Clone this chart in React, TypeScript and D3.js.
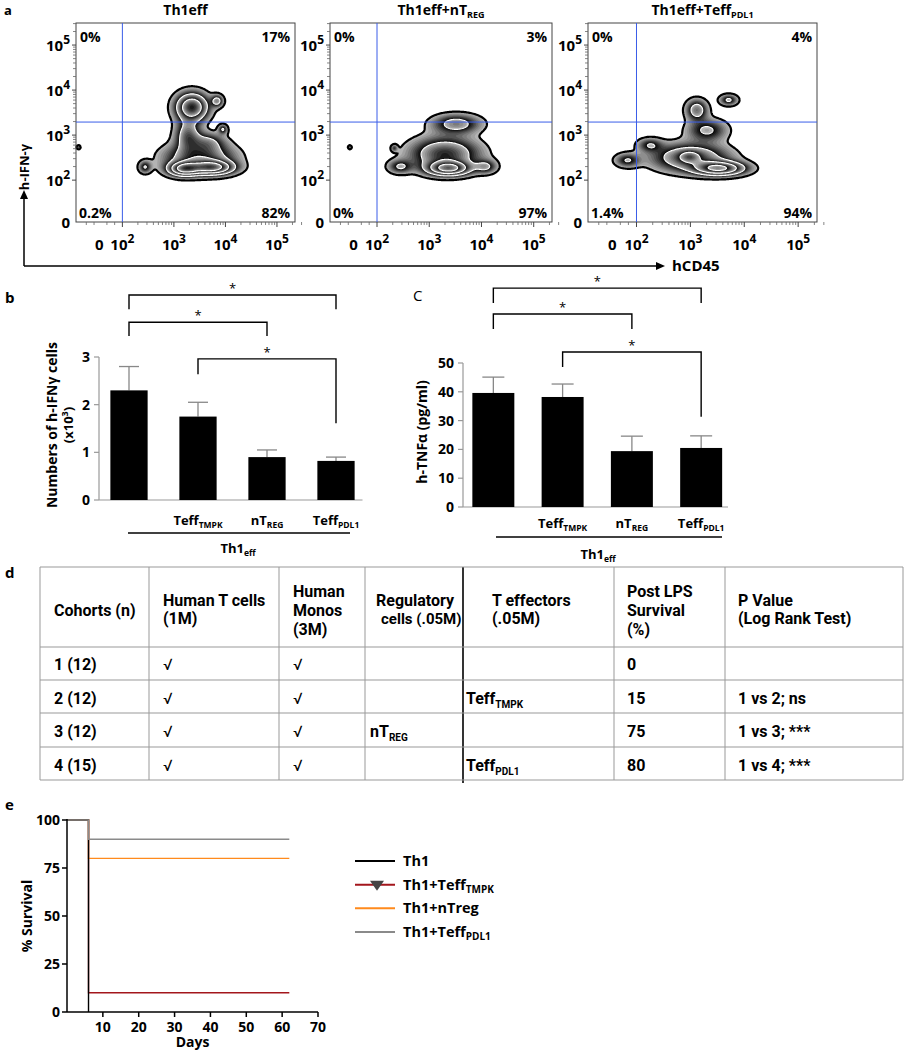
import React, { useMemo } from 'react';
import * as d3 from 'd3';

const FONT = "'Open Sans', 'Noto Sans', 'DejaVu Sans', sans-serif";
const NARROW = "'Roboto', 'Liberation Sans', sans-serif";

// ---------------- Panel a: flow plots ----------------
const flowTitles = ['Th1eff', 'Th1eff+nT', 'Th1eff+Teff'];
const flowTitleSubs = ['', 'REG', 'PDL1'];
const quadrantLabels = [
  ['0%', '17%', '0.2%', '82%'],
  ['0%', '3%', '0%', '97%'],
  ['0%', '4%', '1.4%', '94%'],
];
const flowXTicks = [1.55, 2, 3, 4, 5];
const flowYTicks = [1.1, 2, 3, 4, 5];
const flowTickLabels = [['0', ''], ['10', '2'], ['10', '3'], ['10', '4'], ['10', '5']];
const flowDecades = [2, 3, 4];
const gateU = 2.0;
const gateV = 3.29;
// populations in display (log10) units: [centre x, centre y, spread x, spread y, weight]
const popsTh1eff = [
  [3.2, 2.25, 0.2, 0.1, 1.6],
  [3.75, 2.28, 0.26, 0.1, 1.6],
  [3.5, 2.5, 0.42, 0.21, 0.9],
  [3.27, 3.0, 0.16, 0.22, 0.7],
  [3.65, 2.85, 0.22, 0.14, 0.45],
  [3.35, 3.62, 0.2, 0.2, 1.5],
  [3.84, 3.76, 0.08, 0.09, 0.6],
  [2.44, 2.29, 0.08, 0.09, 0.5],
  [3.95, 3.13, 0.06, 0.07, 0.5],
  [1.15, 2.73, 0.025, 0.03, 0.35],
];
const popsNTreg = [
  [3.37, 2.26, 0.26, 0.1, 1.6],
  [3.3, 2.58, 0.42, 0.24, 0.9],
  [3.52, 3.25, 0.3, 0.14, 0.65],
  [4.08, 2.3, 0.14, 0.1, 0.5],
  [2.44, 2.3, 0.15, 0.1, 0.5],
  [2.33, 2.71, 0.04, 0.05, 0.35],
  [1.48, 2.73, 0.025, 0.03, 0.3],
];
const popsPdl1 = [
  [3.54, 2.26, 0.3, 0.1, 1.6],
  [3.0, 2.5, 0.45, 0.2, 0.9],
  [3.12, 3.56, 0.13, 0.15, 0.7],
  [3.31, 3.11, 0.24, 0.16, 0.55],
  [3.71, 3.78, 0.11, 0.08, 0.55],
  [1.83, 2.44, 0.15, 0.1, 0.5],
  [2.25, 2.78, 0.15, 0.1, 0.45],
  [2.98, 2.52, 0.12, 0.08, 0.5],
];
const flowPops = [popsTh1eff, popsNTreg, popsPdl1];
const bandEdges = [0.1, 0.5, 1.0, 1.6, 2.3, 3.2];

// ---------------- Panels b / C: bars ----------------
const barGroups = ['Th1eff', 'TeffTMPK', 'nTREG', 'TeffPDL1'];
const barLabelMain = ['', 'Teff', 'nT', 'Teff'];
const barLabelSub = ['', 'TMPK', 'REG', 'PDL1'];
const ifnValues = [2.3, 1.75, 0.9, 0.82];
const ifnErrors = [0.5, 0.3, 0.15, 0.08];
const ifnTicks = [0, 1, 2, 3];
const tnfValues = [39.6, 38.2, 19.4, 20.5];
const tnfErrors = [5.5, 4.5, 5.2, 4.2];
const tnfTicks = [0, 10, 20, 30, 40, 50];
// [from, to, bar level, left end, right end]
const ifnSig = [
  [0, 3, 4.3, 4.0, 4.0],
  [0, 2, 3.73, 3.44, 3.44],
  [1, 3, 2.96, 2.64, 1.61],
];
const tnfSig = [
  [0, 3, 76, 70.8, 70.8],
  [0, 2, 67, 61.8, 61.8],
  [1, 3, 53.8, 48.6, 31.3],
];

// ---------------- Panel d: table ----------------
const tableHeaders = [
  ['Cohorts (n)'],
  ['Human T cells', '(1M)'],
  ['Human', 'Monos', '(3M)'],
  ['Regulatory', 'cells (.05M)'],
  ['T effectors', '(.05M)'],
  ['Post LPS', 'Survival', '(%)'],
  ['P Value', '(Log Rank Test)'],
];
const cohorts = ['1 (12)', '2 (12)', '3 (12)', '4 (15)'];
const humanTCells = ['√', '√', '√', '√'];
const humanMonos = ['√', '√', '√', '√'];
const regulatory = [['', ''], ['', ''], ['nT', 'REG'], ['', '']];
const effectors = [['', ''], ['Teff', 'TMPK'], ['', ''], ['Teff', 'PDL1']];
const survivalPct = ['0', '15', '75', '80'];
const pValues = ['', '1 vs 2; ns', '1 vs 3; ***', '1 vs 4; ***'];

// ---------------- Panel e: survival ----------------
const survivalSeries = [
  { name: 'Th1', sub: '', color: '#000000', pts: [[0, 100], [6, 0]] },
  { name: 'Th1+Teff', sub: 'TMPK', color: '#a3161c', pts: [[0, 100], [6, 10], [62, 10]] },
  { name: 'Th1+nTreg', sub: '', color: '#ff8a1c', pts: [[0, 100], [6, 80], [62, 80]] },
  { name: 'Th1+Teff', sub: 'PDL1', color: '#8a8a8a', pts: [[0, 100], [6, 90], [62, 90]] },
];
const survDrawOrder = [1, 2, 0, 3];
const survXTicks = [10, 20, 30, 40, 50, 60, 70];
const survYTicks = [0, 25, 50, 75, 100];

function density(pops: number[][], u: number, v: number) {
  let s = 0;
  for (const [cu, cv, su, sv, w] of pops) {
    const a = (u - cu) / su;
    const b = (v - cv) / sv;
    s += w * Math.exp(-0.5 * (a * a + b * b));
  }
  return s;
}

function zebra(pops: number[][], xs: any, ys: any, x0: number, y0: number, w: number, h: number) {
  const nx = Math.round(w);
  const ny = Math.round(h);
  const vals: number[] = new Array(nx * ny);
  for (let j = 0; j < ny; j++) {
    const v = ys.invert(y0 + j + 0.5);
    for (let i = 0; i < nx; i++) {
      const u = xs.invert(x0 + i + 0.5);
      vals[j * nx + i] = density(pops, u, v);
    }
  }
  const SUB = 10;
  const thr: number[] = [];
  const meta: { band: number; s: number }[] = [];
  for (let b = 0; b < bandEdges.length - 1; b++) {
    for (let s = 0; s < SUB; s++) {
      thr.push(bandEdges[b] + ((bandEdges[b + 1] - bandEdges[b]) * s) / SUB);
      meta.push({ band: b, s });
    }
  }
  const cs = d3.contours().size([nx, ny]).thresholds(thr)(vals);
  const path = d3.geoPath();
  return cs.map((c, k) => ({
    d: path(c as any) || '',
    band: meta[k].band,
    s: meta[k].s,
    gray: Math.round(180 - (172 * meta[k].s) / (SUB - 1)),
  }));
}

const boxX = [76, 330, 588];
const boxW = [219, 222, 229];
const boxTop = 23;
const boxBottom = 222;

function FlowPanel({ idx }: { idx: number }) {
  const x0 = boxX[idx];
  const w = boxW[idx];
  const xs = d3.scaleLinear().domain([1.1, 5.35]).range([x0, x0 + w]);
  const ys = d3.scaleLinear().domain([1.07, 5.49]).range([boxBottom, boxTop]);
  const layers = useMemo(() => zebra(flowPops[idx], xs, ys, x0, boxTop, w, boxBottom - boxTop), [idx]);
  const minorX: number[] = [];
  const minorY: number[] = [];
  flowDecades.forEach((d) => {
    for (let k = 2; k <= 9; k++) {
      minorX.push(d + Math.log10(k));
      minorY.push(d + Math.log10(k));
    }
  });
  for (let k = 2; k <= 3; k++) minorX.push(5 + Math.log10(k));
  for (let k = 2; k <= 3; k++) minorY.push(5 + Math.log10(k));
  const q = quadrantLabels[idx];
  const cx = x0 + w / 2;
  return (
    <g>
      <text x={cx} y={15} textAnchor="middle" fontSize={14} fontWeight={700} fontFamily={FONT}>
        {flowTitles[idx]}
        {flowTitleSubs[idx] && (
          <tspan fontSize={9} dy={3}>
            {flowTitleSubs[idx]}
          </tspan>
        )}
      </text>
      <g transform={`translate(${x0},${boxTop})`}>
        {layers.map((l, i) => (
          <path key={'f' + i} d={l.d} fill={`rgb(${l.gray},${l.gray},${l.gray})`} stroke="none" />
        ))}
        {layers
          .filter((l) => l.s === 0)
          .map((l, i) => (
            <path
              key={'s' + i}
              d={l.d}
              fill="none"
              stroke={l.band === 0 ? '#000' : '#fff'}
              strokeWidth={l.band === 0 ? 2.2 : 1.1}
            />
          ))}
      </g>
      <rect x={x0} y={boxTop} width={w} height={boxBottom - boxTop} fill="none" stroke="#444" strokeWidth={1} />
      <line x1={xs(gateU)} x2={xs(gateU)} y1={boxTop} y2={boxBottom} stroke="#3a5de8" strokeWidth={1} />
      <line x1={x0} x2={x0 + w} y1={ys(gateV)} y2={ys(gateV)} stroke="#3a5de8" strokeWidth={1} />
      {flowXTicks.map((t, i) => (
        <g key={'xt' + i}>
          {i > 0 && <line x1={xs(t)} x2={xs(t)} y1={boxBottom} y2={boxBottom + 5} stroke="#444" />}
          <text x={xs(t)} y={250} textAnchor="middle" fontSize={15} fontWeight={700} fontFamily={FONT}>
            {flowTickLabels[i][0]}
            {flowTickLabels[i][1] && (
              <tspan fontSize={12} dy={-7}>
                {flowTickLabels[i][1]}
              </tspan>
            )}
          </text>
        </g>
      ))}
      {minorX.map((t, i) => (
        <line key={'mx' + i} x1={xs(t)} x2={xs(t)} y1={boxBottom} y2={boxBottom + 3} stroke="#666" strokeWidth={0.8} />
      ))}
      {[1.3, 1.45, 1.7, 1.85].map((t, i) => (
        <line key={'mx0' + i} x1={xs(t)} x2={xs(t)} y1={boxBottom} y2={boxBottom + 3} stroke="#666" strokeWidth={0.8} />
      ))}
      {flowYTicks.map((t, i) => (
        <g key={'yt' + i}>
          {i > 0 && <line x1={x0 - 4} x2={x0} y1={ys(t)} y2={ys(t)} stroke="#444" />}
          <text x={x0 - 6} y={ys(t) + (i === 0 ? 7 : 6)} textAnchor="end" fontSize={15} fontWeight={700} fontFamily={FONT}>
            {flowTickLabels[i][0]}
            {flowTickLabels[i][1] && (
              <tspan fontSize={12} dy={-7}>
                {flowTickLabels[i][1]}
              </tspan>
            )}
          </text>
        </g>
      ))}
      {minorY.map((t, i) => (
        <line key={'my' + i} x1={x0 - 3} x2={x0} y1={ys(t)} y2={ys(t)} stroke="#666" strokeWidth={0.8} />
      ))}
      <text x={x0 + 4} y={42} fontSize={14} fontWeight={700} fontFamily={FONT}>{q[0]}</text>
      <text x={x0 + w - 5} y={42} textAnchor="end" fontSize={14} fontWeight={700} fontFamily={FONT}>{q[1]}</text>
      <text x={x0 + 3} y={218} fontSize={14} fontWeight={700} fontFamily={FONT}>{q[2]}</text>
      <text x={x0 + w - 5} y={218} textAnchor="end" fontSize={14} fontWeight={700} fontFamily={FONT}>{q[3]}</text>
    </g>
  );
}

function BarPanel({
  values,
  errors,
  ticks,
  sig,
  rangeX,
  rangeY,
  domainMax,
  pad,
  capW,
  underline,
  groupLabelX,
  groupLabelY,
  labelY,
}: any) {
  const xs = d3.scaleBand().domain(barGroups).range(rangeX).paddingInner(pad[0]).paddingOuter(pad[1]);
  const ys = d3.scaleLinear().domain([0, domainMax]).range(rangeY);
  const axisX = rangeX[0] + 4.5;
  return (
    <g fontFamily={FONT}>
      <line x1={axisX} x2={axisX} y1={ys(0)} y2={ys(domainMax)} stroke="#999" strokeWidth={1.2} />
      <line x1={axisX} x2={rangeX[1] - 8} y1={ys(0)} y2={ys(0)} stroke="#999" strokeWidth={1.2} />
      {ticks.map((t: number) => (
        <g key={t}>
          <line x1={axisX - 5} x2={axisX} y1={ys(t)} y2={ys(t)} stroke="#999" strokeWidth={1.2} />
          <text x={axisX - 9} y={ys(t) + 5} textAnchor="end" fontSize={14} fontWeight={700}>
            {t}
          </text>
        </g>
      ))}
      {barGroups.map((g, i) => {
        const x = xs(g)!;
        const c = x + xs.bandwidth() / 2;
        return (
          <g key={g}>
            <line x1={c} x2={c} y1={ys(values[i])} y2={ys(values[i] + errors[i])} stroke="#888" strokeWidth={1.3} />
            <line x1={c - capW / 2} x2={c + capW / 2} y1={ys(values[i] + errors[i])} y2={ys(values[i] + errors[i])} stroke="#888" strokeWidth={1.3} />
            <rect x={x} y={ys(values[i])} width={xs.bandwidth()} height={ys(0) - ys(values[i])} fill="#000" />
            {barLabelMain[i] && (
              <text x={c} y={labelY} textAnchor="middle" fontSize={13} fontWeight={700}>
                {barLabelMain[i]}
                <tspan fontSize={8.5} dy={3}>
                  {barLabelSub[i]}
                </tspan>
              </text>
            )}
          </g>
        );
      })}
      {sig.map((s: number[], k: number) => {
        const a = xs(barGroups[s[0]])! + xs.bandwidth() / 2;
        const b = xs(barGroups[s[1]])! + xs.bandwidth() / 2;
        const y = ys(s[2]);
        return (
          <g key={k}>
            <path d={`M${a},${ys(s[3])}V${y}H${b}V${ys(s[4])}`} fill="none" stroke="#000" strokeWidth={1.4} />
            <text x={(a + b) / 2} y={y - 2} textAnchor="middle" fontSize={13}>
              *
            </text>
          </g>
        );
      })}
      <line x1={underline[0]} x2={underline[1]} y1={underline[2]} y2={underline[2]} stroke="#000" strokeWidth={1.5} />
      <text x={groupLabelX} y={groupLabelY} textAnchor="middle" fontSize={13} fontWeight={700}>
        Th1
        <tspan fontSize={8.5} dy={3}>
          eff
        </tspan>
      </text>
    </g>
  );
}

function Table() {
  const colX = [40, 149, 279, 365, 463, 614, 725, 903];
  const textX = [54, 163, 293, 376, 492, 627, 738];
  const top = 567;
  const rowLines = [647, 680, 713, 747, 780];
  const rowY = [665, 699, 732, 766];
  const headerY: Record<number, number[]> = { 1: [611], 2: [601, 619], 3: [592, 611, 630] };
  const columns = [cohorts, humanTCells, humanMonos, regulatory, effectors, survivalPct, pValues];
  return (
    <g fontFamily={NARROW} fontWeight={700} fontSize={16}>
      {colX.map((x, i) =>
        i === 4 ? (
          <line key={i} x1={x} x2={x} y1={top} y2={783} stroke="#000" strokeWidth={1.6} />
        ) : (
          <line key={i} x1={x} x2={x} y1={top} y2={780} stroke="#999" strokeWidth={1} />
        )
      )}
      <line x1={40} x2={903} y1={top} y2={top} stroke="#999" />
      {rowLines.map((y, i) => (
        <line key={i} x1={40} x2={903} y1={y} y2={y} stroke="#999" strokeWidth={1.2} />
      ))}
      {tableHeaders.map((lines, c) =>
        lines.map((t, k) => (
          <text
            key={c + '-' + k}
            x={textX[c] + (c === 3 && k === 1 ? 5 : 0)}
            y={headerY[lines.length][k] + 5}
            fontSize={c === 3 && k === 1 ? 15 : 16}
          >
            {t}
          </text>
        ))
      )}
      {columns.map((col, c) =>
        col.map((v: any, r: number) => {
          if (Array.isArray(v)) {
            if (!v[0]) return null;
            return (
              <text key={c + '-' + r} x={c === 3 ? 370 : 466} y={rowY[r] + 5}>
                {v[0]}
                <tspan fontSize={10} dy={4}>
                  {v[1]}
                </tspan>
              </text>
            );
          }
          if (!v) return null;
          return (
            <text key={c + '-' + r} x={textX[c]} y={rowY[r] + 5} fontWeight={c === 1 || c === 2 ? 400 : 700}>
              {v}
            </text>
          );
        })
      )}
    </g>
  );
}

function Survival() {
  const xs = d3.scaleLinear().domain([0, 70]).range([67, 318]);
  const ys = d3.scaleLinear().domain([0, 100]).range([1012, 820]);
  const line = d3
    .line<number[]>()
    .x((d) => xs(d[0]))
    .y((d) => ys(d[1]))
    .curve(d3.curveStepAfter);
  const legY = d3.scalePoint<number>().domain([0, 1, 2, 3]).range([861, 932]);
  return (
    <g fontFamily={FONT}>
      {survDrawOrder.map((i) => (
        <path key={i} d={line(survivalSeries[i].pts) || ''} fill="none" stroke={survivalSeries[i].color} strokeWidth={1.4} />
      ))}
      <line x1={xs(0)} x2={xs(0)} y1={ys(0)} y2={ys(100) - 1} stroke="#000" strokeWidth={1.5} />
      <line x1={xs(0)} x2={xs(70)} y1={ys(0)} y2={ys(0)} stroke="#000" strokeWidth={1.5} />
      {survYTicks.map((t) => (
        <g key={t}>
          <line x1={xs(0) - 5} x2={xs(0)} y1={ys(t)} y2={ys(t)} stroke="#000" strokeWidth={1.5} />
          <text x={xs(0) - 7} y={ys(t) + 5} textAnchor="end" fontSize={14} fontWeight={700}>
            {t}
          </text>
        </g>
      ))}
      {survXTicks.map((t) => (
        <g key={t}>
          <line x1={xs(t)} x2={xs(t)} y1={ys(0)} y2={ys(0) + 5} stroke="#000" strokeWidth={1.5} />
          <text x={xs(t)} y={ys(0) + 20} textAnchor="middle" fontSize={14} fontWeight={700}>
            {t}
          </text>
        </g>
      ))}
      <text x={xs(35)} y={1047} textAnchor="middle" fontSize={14} fontWeight={700}>
        Days
      </text>
      <text transform={`translate(32,${ys(50)}) rotate(-90)`} textAnchor="middle" fontSize={14} fontWeight={700}>
        % Survival
      </text>
      {survivalSeries.map((s, i) => (
        <g key={'lg' + i}>
          <line x1={355} x2={395} y1={legY(i)} y2={legY(i)} stroke={s.color} strokeWidth={2} />
          {s.sub === 'TMPK' && (
            <path d={`M${370},${legY(i)! - 4}L${384},${legY(i)! - 4}L${377},${legY(i)! + 6}Z`} fill="#444" />
          )}
          <text x={403} y={legY(i)! + 5} fontSize={14.5} fontWeight={700}>
            {s.name}
            {s.sub && (
              <tspan fontSize={10} dy={3}>
                {s.sub}
              </tspan>
            )}
          </text>
        </g>
      ))}
    </g>
  );
}

export default function App() {
  return (
    <svg
      width={906}
      height={1050}
      viewBox="0 0 906 1050"
      style={{ position: 'absolute', left: 0, top: 0, background: '#fff' }}
      fontFamily={FONT}
    >
      <rect width={906} height={1050} fill="#fff" />
      <text x={4} y={15} fontSize={13} fontWeight={700}>a</text>
      <text x={5} y={303} fontSize={15} fontWeight={700}>b</text>
      <text x={413} y={301} fontSize={15}>C</text>
      <text x={5} y={578} fontSize={15} fontWeight={700}>d</text>
      <text x={5} y={810} fontSize={15} fontWeight={700}>e</text>

      {[0, 1, 2].map((i) => (
        <FlowPanel key={i} idx={i} />
      ))}
      <line x1={24} x2={24} y1={266} y2={198} stroke="#000" strokeWidth={1.5} />
      <path d="M20,199L24,190L28,199Z" fill="#000" />
      <line x1={24} x2={657} y1={266} y2={266} stroke="#000" strokeWidth={1.5} />
      <path d="M656,262L665,266L656,270Z" fill="#000" />
      <text transform="translate(29,167) rotate(-90)" textAnchor="middle" fontSize={13} fontWeight={700}>
        h-IFN-γ
      </text>
      <text x={672} y={271} fontSize={15} fontWeight={700}>hCD45</text>

      <BarPanel
        values={ifnValues}
        errors={ifnErrors}
        ticks={ifnTicks}
        sig={ifnSig}
        rangeX={[94.5, 370.5]}
        rangeY={[500, 357]}
        domainMax={3}
        pad={[0.46, 0.23]}
        capW={20}
        underline={[128, 350, 533]}
        groupLabelX={238}
        groupLabelY={553}
        labelY={525}
      />
      <text transform="translate(57,425) rotate(-90)" textAnchor="middle" fontSize={14} fontWeight={700}>
        Numbers of h-IFNγ cells
      </text>
      <text transform="translate(73,425) rotate(-90)" textAnchor="middle" fontSize={13} fontWeight={700}>
        (x10<tspan fontSize={9} dy={-5}>3</tspan>
        <tspan dy={5}>)</tspan>
      </text>

      <BarPanel
        values={tnfValues}
        errors={tnfErrors}
        ticks={tnfTicks}
        sig={tnfSig}
        rangeX={[458.5, 736]}
        rangeY={[507, 363]}
        domainMax={50}
        pad={[0.394, 0.2]}
        capW={22}
        underline={[496, 722, 537]}
        groupLabelX={598}
        groupLabelY={559}
        labelY={528}
      />
      <text transform="translate(427,432) rotate(-90)" textAnchor="middle" fontSize={14} fontWeight={700}>
        h-TNFα (pg/ml)
      </text>

      <Table />
      <Survival />
    </svg>
  );
}
